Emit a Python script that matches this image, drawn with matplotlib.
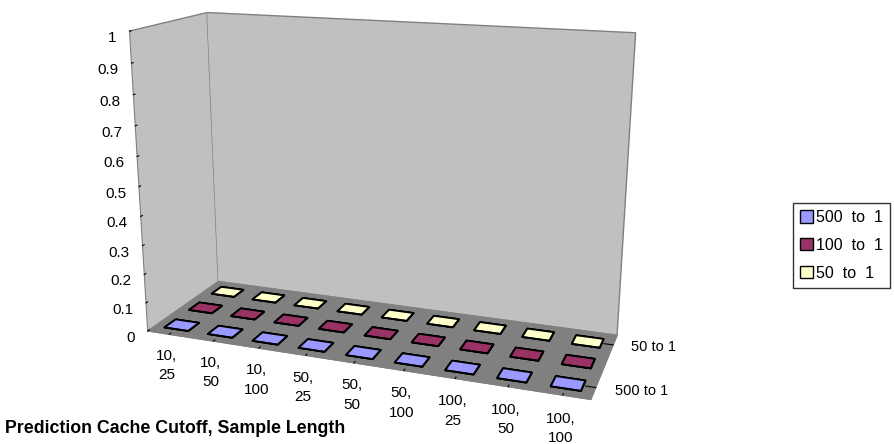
import numpy as np
import matplotlib.pyplot as plt
from matplotlib.patches import Patch

plt.rcParams['font.family'] = ['Liberation Sans', 'DejaVu Sans']

# categories: prediction cache cutoff, sample length
categories = ['10,\n25', '10,\n50', '10,\n100', '50,\n25', '50,\n50',
              '50,\n100', '100,\n25', '100,\n50', '100,\n100']
series_names = ['500 to 1', '100 to 1', '50 to 1']
series_colors = ['#9999FF', '#993366', '#FFFFCC']

# every value in the chart sits on the floor
ratio_500 = [0, 0, 0, 0, 0, 0, 0, 0, 0]
ratio_100 = [0, 0, 0, 0, 0, 0, 0, 0, 0]
ratio_50 = [0, 0, 0, 0, 0, 0, 0, 0, 0]

z_ticks = [0, 0.1, 0.2, 0.3, 0.4, 0.5, 0.6, 0.7, 0.8, 0.9, 1]
z_labels = ['0', '0.1', '0.2', '0.3', '0.4', '0.5', '0.6', '0.7', '0.8', '0.9', '1']
y_ticks = [0, 2]
y_labels = ['500 to 1', '50 to 1']

fig = plt.figure(figsize=(8.95, 4.44), dpi=100)
ax = fig.add_axes([0.0285, 0.001, 0.78, 1.12], projection='3d')
ax.set_proj_type('persp', focal_length=0.42)
ax.view_init(elev=15.8, azim=-70)
ax.set_box_aspect((474, 160, 321), zoom=1.13)

bw = 0.55
bd = 0.45
xpos = np.arange(len(categories))
handles = []
for i, (vals, col, name) in enumerate(zip([ratio_500, ratio_100, ratio_50], series_colors, series_names)):
    ax.bar3d(xpos - bw / 2, np.full(len(xpos), i) - bd / 2, np.zeros(len(xpos)),
             bw, bd, vals, color=col, edgecolor='black', linewidth=1.3, shade=False)
    handles.append(Patch(facecolor=col, edgecolor='black', label=name.replace(' ', '  ')))

x_lo, x_hi = -0.5, len(categories) - 0.5
ax.set_xlim(x_lo, x_hi)
ax.set_ylim(-0.5, 2.5)
ax.set_zlim(0, 1)

ax.xaxis.set_pane_color('#C0C0C0')
ax.yaxis.set_pane_color('#C0C0C0')
ax.zaxis.set_pane_color('#808080')
for a in (ax.xaxis, ax.yaxis, ax.zaxis):
    a.pane.set_edgecolor('#808080')
    a.line.set_color('#808080')
    a._axinfo['tick']['inward_factor'] = 0.0
    a._axinfo['tick']['outward_factor'] = 0.25
ax.grid(False)
ax.zaxis.set_ticks_position('lower')
ax.zaxis.set_label_position('lower')

ax.set_xticks(xpos)
ax.set_xticklabels(categories, fontsize=11, linespacing=1.5)
ax.set_yticks(y_ticks)
ax.set_yticklabels(['', ''])
# series names sit just right of the right floor edge
for yv, lab in zip(y_ticks, y_labels):
    ax.text(x_hi + 0.35, yv, 0, lab, fontsize=10.5, ha='left', va='center')
ax.set_zticks(z_ticks)
ax.set_zticklabels(z_labels, fontsize=11, ha='right')
ax.tick_params(axis='both', colors='black')
ax.tick_params(axis='x', pad=0)
ax.tick_params(axis='z', pad=-3)

fig.text(0.006, 0.036, 'Prediction Cache Cutoff, Sample Length', fontsize=12.8,
         fontweight='bold', va='center')

fig.legend(handles=handles, loc='upper left', bbox_to_anchor=(0.886, 0.543),
           frameon=True, fancybox=False, edgecolor='black', fontsize=11.5,
           handlelength=0.8, handleheight=0.8, handletextpad=0.2,
           borderpad=0.45, labelspacing=0.8, borderaxespad=0)

fig.savefig('out.png', dpi=100)
